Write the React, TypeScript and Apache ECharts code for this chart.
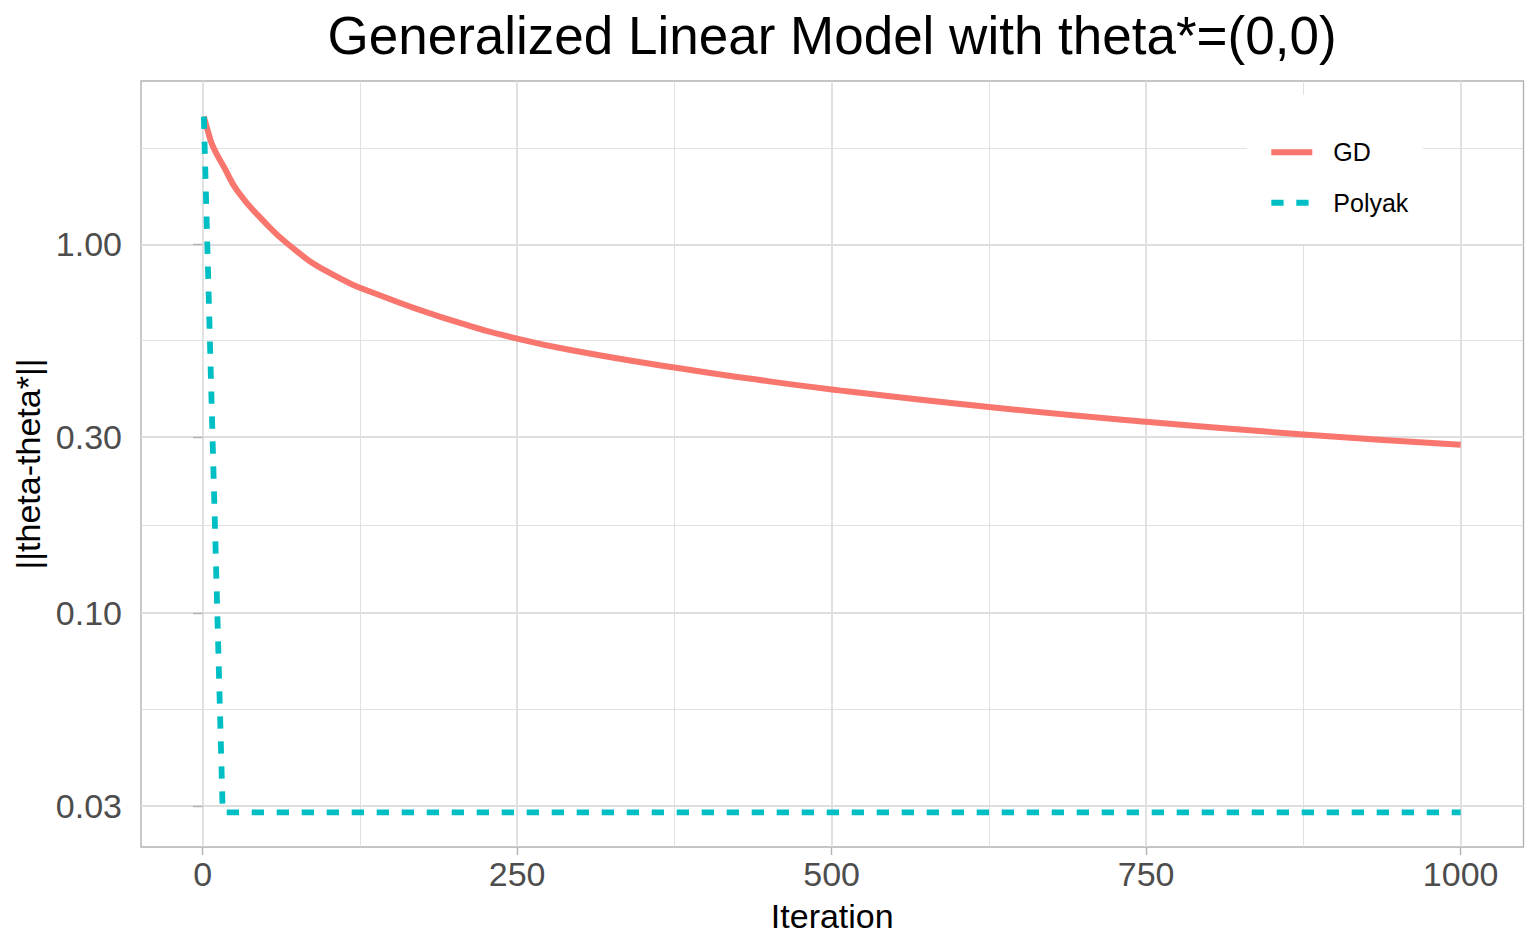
import React, { useEffect, useRef } from "react";
import * as echarts from "echarts";

// ---- data ----
const gdIteration = [1, 4, 8, 17, 28, 47, 68, 100, 145, 200, 250, 300, 375, 433, 500, 625, 750, 875, 1000];
const gdValue = [2.22, 2.04, 1.85, 1.62, 1.39, 1.17, 1.0, 0.84, 0.718, 0.619, 0.555, 0.511, 0.463, 0.433, 0.404, 0.362, 0.33, 0.305, 0.286];

const polyakIteration = [1, 6, 11, 16, 1000];
const polyakValue = [2.22, 0.52, 0.123, 0.0288, 0.0288];

const seriesNames = ["GD", "Polyak"];
const xTickValues = [0, 250, 500, 750, 1000];
const xMinorValues = [125, 375, 625, 875];
const yTickValues = [0.03, 0.1, 0.3, 1];
const yMinorValues = [0.05477, 0.1732, 0.5477, 1.8257];

const titleText = "Generalized Linear Model with theta*=(0,0)";
const xTitle = "Iteration";
const yTitle = "||theta-theta*||";

// axis limits (ggplot 5% expansion)
const X_MIN = -48.95;
const X_MAX = 1049.95;
const Y_MIN = 0.02319;
const Y_MAX = 2.772;

const FONT = "'Liberation Sans', Arial, Helvetica, sans-serif";
const RED = "#F8766D";
const TEAL = "#00BFC4";
const GRID = "#DEDEDE";
const BORDER = "#B3B3B3";

export default function App() {
  const ref = useRef<HTMLDivElement>(null);

  useEffect(() => {
    if (!ref.current) return;
    const chart = echarts.init(ref.current, null, { renderer: "svg" });

    const gdData = gdIteration.map((t, i) => [t, gdValue[i]]);
    const polyakData = polyakIteration.map((t, i) => [t, polyakValue[i]]);

    const option: any = {
      animation: false,
      backgroundColor: "#ffffff",
      textStyle: { fontFamily: FONT },
      title: {
        text: titleText,
        left: 832,
        top: 8.5,
        textAlign: "center",
        padding: 0,
        textStyle: { fontSize: 53, fontWeight: "normal", color: "#000000", fontFamily: FONT },
      },
      grid: {
        left: 141,
        top: 81,
        width: 1382.5,
        height: 766,
        show: true,
        borderColor: BORDER,
        borderWidth: 1.4,
        backgroundColor: "transparent",
      },
      legend: {
        orient: "vertical",
        left: 1268.3,
        top: 139.7,
        padding: 0,
        itemWidth: 41,
        itemHeight: 26,
        itemGap: 25.6,
        selectedMode: false,
        itemStyle: { opacity: 0 },
        textStyle: { fontSize: 25, color: "#000000", fontFamily: FONT, padding: [4, 0, 0, 16] },
        data: [
          { name: seriesNames[0], lineStyle: { width: 6, color: RED, type: "solid" } },
          { name: seriesNames[1], lineStyle: { width: 6, color: TEAL, type: [12.3, 12.7] } },
        ],
      },
      graphic: [
        {
          type: "rect",
          z: 1,
          shape: { x: 1247, y: 95, width: 176, height: 149 },
          style: { fill: "#ffffff" },
          silent: true,
        },
      ],
      xAxis: [
        {
          type: "value",
          min: X_MIN,
          max: X_MAX,
          name: xTitle,
          nameLocation: "middle",
          nameGap: 52,
          nameTextStyle: { fontSize: 34, color: "#000000", fontFamily: FONT },
          axisLine: { show: false },
          axisTick: { show: true, customValues: xTickValues, length: 8, lineStyle: { color: BORDER, width: 1.4 } },
          axisLabel: {
            customValues: xTickValues,
            fontSize: 34,
            color: "#4D4D4D",
            margin: 10,
            fontFamily: FONT,
            formatter: (v: number) => String(Math.round(v)),
          },
          splitLine: { show: true, lineStyle: { color: GRID, width: 1.8 } },
        },
        {
          type: "value",
          min: X_MIN,
          max: X_MAX,
          position: "top",
          axisLine: { show: false },
          axisTick: { show: false, customValues: xMinorValues },
          axisLabel: { show: false, customValues: xMinorValues },
          splitLine: { show: true, lineStyle: { color: GRID, width: 0.9 } },
        },
      ],
      yAxis: [
        {
          type: "log",
          logBase: 10,
          min: Y_MIN,
          max: Y_MAX,
          name: yTitle,
          nameLocation: "middle",
          nameGap: 93,
          nameRotate: 90,
          nameTextStyle: { fontSize: 34, color: "#000000", fontFamily: FONT },
          axisLine: { show: false },
          axisTick: { show: true, customValues: yTickValues, length: 9.5, lineStyle: { color: BORDER, width: 1.4 } },
          axisLabel: {
            customValues: yTickValues,
            fontSize: 34,
            color: "#4D4D4D",
            margin: 19,
            fontFamily: FONT,
            formatter: (v: number) => v.toFixed(2),
          },
          splitLine: { show: true, lineStyle: { color: GRID, width: 1.8 } },
          minorTick: { show: false },
          minorSplitLine: { show: false },
        },
        {
          type: "log",
          logBase: 10,
          min: Y_MIN,
          max: Y_MAX,
          position: "right",
          axisLine: { show: false },
          axisTick: { show: false, customValues: yMinorValues },
          axisLabel: { show: false, customValues: yMinorValues },
          splitLine: { show: true, lineStyle: { color: GRID, width: 0.9 } },
        },
      ],
      series: [
        {
          name: seriesNames[0],
          type: "line",
          xAxisIndex: 0,
          yAxisIndex: 0,
          data: gdData,
          symbol: "none",
          showSymbol: false,
          smooth: 0.5,
          z: 3,
          lineStyle: { color: RED, width: 6, cap: "butt" },
          itemStyle: { color: RED },
        },
        {
          name: seriesNames[1],
          type: "line",
          xAxisIndex: 0,
          yAxisIndex: 0,
          data: polyakData,
          symbol: "none",
          showSymbol: false,
          z: 4,
          lineStyle: { color: TEAL, width: 5.8, type: [12.3, 12.7], cap: "butt" },
          itemStyle: { color: TEAL },
        },
      ],
    };

    chart.setOption(option);
    return () => chart.dispose();
  }, []);

  return (
    <div
      ref={ref}
      style={{ position: "absolute", left: 0, top: 0, width: 1540, height: 951, background: "#ffffff" }}
    />
  );
}
